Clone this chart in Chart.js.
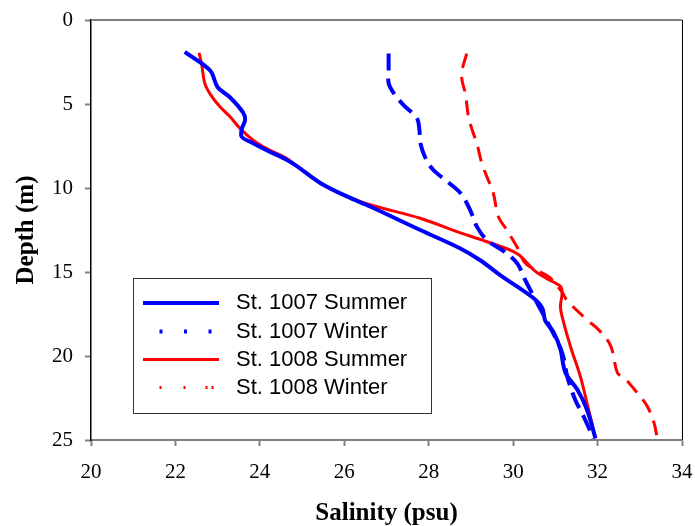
<!DOCTYPE html>
<html>
<head>
<meta charset="utf-8">
<script src="https://cdn.jsdelivr.net/npm/chart.js@4/dist/chart.umd.min.js"></script>
<style>
  html, body { margin: 0; padding: 0; background: #fff; }
  #wrap { width: 695px; height: 526px; }
</style>
</head>
<body>
<div id="wrap"><canvas id="salinityChart"></canvas></div>
<script>
// ============================================
// DATA (salinity in psu, depth in m)
// ============================================

const xTicks = [20, 22, 24, 26, 28, 30, 32, 34];
const yTicks = [0, 5, 10, 15, 20, 25];

const st1007SummerDepth = [1.9, 3.0, 4.0, 4.6, 5.5, 5.95, 6.5, 6.95, 7.25, 7.75, 8.3, 8.65, 9.7, 10.5, 11.1, 12.5, 13.6, 14.3, 15.2, 16.55, 17.15, 17.9, 18.6, 19.6, 21.0, 22.0, 23.2, 24.9];
const st1007SummerSal   = [22.22, 22.82, 23.0, 23.29, 23.6, 23.65, 23.57, 23.57, 23.77, 24.16, 24.62, 24.85, 25.43, 26.06, 26.61, 27.8, 28.75, 29.22, 29.7, 30.48, 30.69, 30.76, 30.96, 31.12, 31.24, 31.52, 31.75, 31.95];

const st1007WinterDepth = [2.0, 3.0, 3.75, 4.35, 5.05, 5.85, 6.55, 7.3, 8.2, 8.9, 9.6, 10.3, 11.3, 12.3, 13.1, 13.8, 14.5, 15.4, 15.7, 17.0, 18.3, 19.8, 21.2, 22.6, 23.6, 24.9];
const st1007WinterSal   = [27.05, 27.05, 27.05, 27.17, 27.4, 27.72, 27.78, 27.8, 27.92, 28.1, 28.43, 28.75, 28.98, 29.14, 29.38, 29.8, 30.1, 30.27, 30.33, 30.6, 30.88, 31.16, 31.28, 31.47, 31.67, 31.9];

const st1008SummerDepth = [1.95, 2.6, 3.8, 4.55, 5.15, 5.75, 6.45, 7.15, 7.65, 8.25, 8.65, 9.7, 10.5, 11.0, 11.8, 12.6, 13.2, 13.9, 14.9, 15.4, 15.85, 16.25, 17.05, 17.65, 19.45, 21.2, 22.8, 24.9];
const st1008SummerSal   = [22.56, 22.62, 22.7, 22.86, 23.05, 23.29, 23.53, 23.84, 24.16, 24.64, 24.85, 25.43, 26.06, 26.61, 27.8, 28.67, 29.38, 30.09, 30.5, 30.8, 31.12, 31.16, 31.12, 31.16, 31.36, 31.59, 31.75, 31.95];

const st1008WinterDepth = [2.0, 3.0, 3.6, 4.4, 5.75, 6.55, 7.35, 8.55, 9.35, 10.3, 11.7, 12.5, 13.5, 14.5, 15.3, 16.2, 16.7, 17.85, 18.45, 19.4, 21.0, 21.3, 22.2, 23.0, 24.0, 25.0];
const st1008WinterSal   = [28.9, 28.79, 28.79, 28.87, 28.94, 29.03, 29.14, 29.26, 29.38, 29.53, 29.65, 29.85, 30.09, 30.3, 30.85, 31.16, 31.28, 31.75, 32.03, 32.31, 32.47, 32.63, 32.94, 33.18, 33.34, 33.42];

function toPoints(sal, depth) {
    return sal.map((s, i) => ({ x: s, y: depth[i] }));
}

// ============================================
// PLUGINS
// ============================================

// top and right frame lines
const framePlugin = {
    id: 'frame',
    afterDraw(chart) {
        const { ctx, chartArea: a } = chart;
        ctx.save();
        ctx.strokeStyle = '#808080';
        ctx.lineWidth = 2;
        ctx.beginPath();
        ctx.moveTo(a.left, a.top);
        ctx.lineTo(a.right, a.top);
        ctx.stroke();
        ctx.strokeStyle = '#000';
        ctx.lineWidth = 1;
        ctx.beginPath();
        ctx.moveTo(a.right + 0.5, a.top);
        ctx.lineTo(a.right + 0.5, a.bottom);
        ctx.stroke();
        ctx.restore();
    }
};

// boxed legend inside the plot
const boxLegendPlugin = {
    id: 'boxLegend',
    afterDraw(chart) {
        const { ctx } = chart;
        const box = { left: 133.5, top: 278.5, right: 431.5, bottom: 413.5 };
        const rows = [303, 331.5, 359.5, 387.5];
        ctx.save();
        ctx.fillStyle = '#fff';
        ctx.fillRect(box.left, box.top, box.right - box.left, box.bottom - box.top);
        ctx.strokeStyle = '#333';
        ctx.lineWidth = 1;
        ctx.strokeRect(box.left, box.top, box.right - box.left, box.bottom - box.top);

        ctx.font = '22px "Liberation Sans", Arial, sans-serif';
        ctx.textBaseline = 'middle';
        chart.data.datasets.forEach((ds, i) => {
            const y = rows[i];
            ctx.strokeStyle = ds.borderColor;
            ctx.lineWidth = ds.borderWidth;
            ctx.lineCap = 'butt';
            ctx.setLineDash(ds.legendDash || []);
            ctx.beginPath();
            ctx.moveTo(ds.legendDash ? 159.5 : 143, y);
            ctx.lineTo(219, y);
            ctx.stroke();
            ctx.setLineDash([]);
            ctx.fillStyle = '#000';
            ctx.fillText(ds.label, 236, y);
        });
        ctx.restore();
    }
};

// ============================================
// CHART
// ============================================

const serif = '"Liberation Serif", "Times New Roman", serif';

new Chart(document.getElementById('salinityChart'), {
    type: 'line',
    data: {
        datasets: [
            {
                label: 'St. 1007 Summer',
                data: toPoints(st1007SummerSal, st1007SummerDepth),
                borderColor: '#0000ff',
                borderWidth: 4
            },
            {
                label: 'St. 1007 Winter',
                data: toPoints(st1007WinterSal, st1007WinterDepth),
                borderColor: '#0000ff',
                borderWidth: 4,
                borderDash: [17, 8],
                legendDash: [3, 21.5]
            },
            {
                label: 'St. 1008 Summer',
                data: toPoints(st1008SummerSal, st1008SummerDepth),
                borderColor: '#ff0000',
                borderWidth: 3
            },
            {
                label: 'St. 1008 Winter',
                data: toPoints(st1008WinterSal, st1008WinterDepth),
                borderColor: '#ff0000',
                borderWidth: 3,
                borderDash: [15, 9],
                legendDash: [2, 22, 2, 20, 2, 4, 2, 60]
            }
        ]
    },
    options: {
        responsive: true,
        maintainAspectRatio: false,
        animation: false,
        devicePixelRatio: 1,
        elements: {
            point: { radius: 0, hoverRadius: 0 },
            line: { tension: 0.35, fill: false }
        },
        layout: { padding: { top: 20, right: 13, left: 0, bottom: 0 } },
        plugins: {
            legend: { display: false },
            tooltip: { enabled: false }
        },
        scales: {
            x: {
                type: 'linear',
                position: 'bottom',
                min: xTicks[0],
                max: xTicks[xTicks.length - 1],
                afterBuildTicks: s => { s.ticks = xTicks.map(v => ({ value: v })); },
                afterFit: s => { s.height = 86; s.paddingLeft = 0; s.paddingRight = 0; },
                grid: { drawOnChartArea: false, drawTicks: true, tickLength: 6, color: '#808080', tickWidth: 2 },
                border: { color: '#808080', width: 2 },
                ticks: { color: '#000', padding: 14, font: { family: serif, size: 21 } },
                title: {
                    display: true,
                    text: 'Salinity (psu)',
                    color: '#000',
                    padding: { top: 0, bottom: 0 },
                    font: { family: serif, size: 25, weight: 'bold', lineHeight: 1 }
                }
            },
            y: {
                type: 'linear',
                reverse: true,
                min: yTicks[0],
                max: yTicks[yTicks.length - 1],
                afterBuildTicks: s => { s.ticks = yTicks.map(v => ({ value: v })); },
                afterFit: s => { s.width = 91; s.paddingTop = 0; s.paddingBottom = 0; },
                grid: { drawOnChartArea: false, drawTicks: true, tickLength: 6, color: '#808080', tickWidth: 2 },
                border: { color: '#000', width: 1.5 },
                ticks: { color: '#000', padding: 12, font: { family: serif, size: 21 } },
                title: {
                    display: true,
                    text: 'Depth (m)',
                    color: '#000',
                    padding: { top: 12, bottom: 0 },
                    font: { family: serif, size: 25, weight: 'bold', lineHeight: 1.2 }
                }
            }
        }
    },
    plugins: [framePlugin, boxLegendPlugin]
});
</script>
</body>
</html>
